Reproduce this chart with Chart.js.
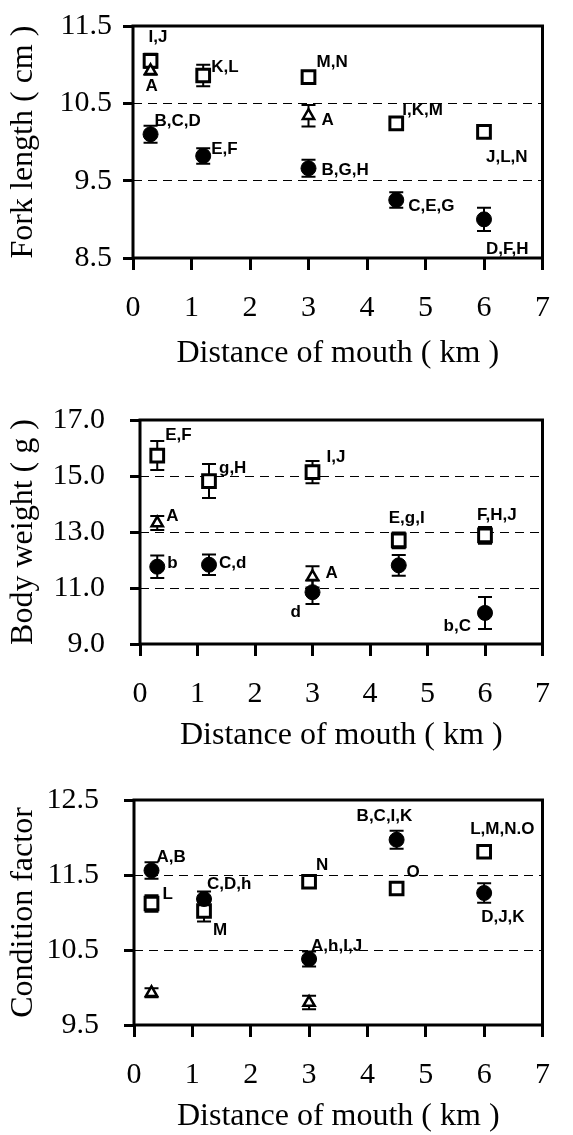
<!DOCTYPE html>
<html>
<head>
<meta charset="utf-8">
<script src="https://cdn.jsdelivr.net/npm/chart.js@4.4.1/dist/chart.umd.min.js"></script>
<style>
  body { margin: 0; background: #fff; width: 573px; height: 1135px; overflow: hidden; }
  canvas { position: absolute; left: 0; }
</style>
</head>
<body>
<canvas id="fork" width="573" height="380" style="top:0"></canvas>
<canvas id="weight" width="573" height="380" style="top:380px"></canvas>
<canvas id="cond" width="573" height="375" style="top:760px"></canvas>
<script>
// sampling sites (km from mouth)
const distance = [0.3, 1.2, 3, 4.5, 6];
const distanceTri = [0.3, 3];
const xTickValues = [0, 1, 2, 3, 4, 5, 6, 7];
const xTitle = 'Distance of mouth ( km )';

// Fork length ( cm )
const forkTicks = [8.5, 9.5, 10.5, 11.5];
const forkCircle = [10.10, 9.82, 9.66, 9.25, 9.00];
const forkCircleSE = [0.11, 0.10, 0.11, 0.10, 0.15];
const forkSquare = [11.05, 10.86, 10.84, 10.24, 10.13];
const forkSquareSE = [0.09, 0.14, 0.05, 0.04, 0.04];
const forkTriangle = [10.92, 10.34];
const forkTriangleSE = [0.05, 0.14];
const forkCircleLabels = ['B,C,D', 'E,F', 'B,G,H', 'C,E,G', 'D,F,H'];
const forkSquareLabels = ['I,J', 'K,L', 'M,N', 'I,K,M', 'J,L,N'];
const forkTriangleLabels = ['A', 'A'];

// Body weight ( g )
const weightTicks = [9, 11, 13, 15, 17];
const weightCircle = [11.76, 11.83, 10.85, 11.81, 10.11];
const weightCircleSE = [0.40, 0.37, 0.42, 0.37, 0.57];
const weightSquare = [15.73, 14.82, 15.14, 12.70, 12.88];
const weightSquareSE = [0.52, 0.61, 0.40, 0.28, 0.30];
const weightTriangle = [13.32, 11.40];
const weightTriangleSE = [0.25, 0.38];
const weightCircleLabels = ['b', 'C,d', 'd', '', 'b,C'];
const weightSquareLabels = ['E,F', 'g,H', 'I,J', 'E,g,I', 'F,H,J'];
const weightTriangleLabels = ['A', 'A'];

// Condition factor
const condTicks = [9.5, 10.5, 11.5, 12.5];
const condCircle = [11.56, 11.18, 10.38, 11.97, 11.26];
const condCircleSE = [0.11, 0.10, 0.10, 0.12, 0.13];
const condSquare = [11.12, 11.02, 11.41, 11.32, 11.81];
const condSquareSE = [0.11, 0.14, 0.07, 0.05, 0.05];
const condTriangle = [9.93, 9.80];
const condTriangleSE = [0.06, 0.09];
const condCircleLabels = ['A,B', 'C,D,h', 'A,h,I,J', 'B,C,I,K', 'D,J,K'];
const condSquareLabels = ['L', 'M', 'N', 'O', 'L,M,N.O'];
const condTriangleLabels = ['', ''];

// letter placement next to each marker: [dx, dy, align] in px
const forkCirclePos = [[4, -13, 'left'], [8, -7, 'left'], [13, 2, 'left'], [12, 6, 'left'], [2, 30, 'left']];
const forkSquarePos = [[-2, -23, 'left'], [8, -8, 'left'], [8, -15, 'left'], [6, -13, 'left'], [2, 25, 'left']];
const forkTrianglePos = [[-5, 15, 'left'], [13, 5, 'left']];
const weightCirclePos = [[10, -3, 'left'], [10, -1, 'left'], [-22, 20, 'left'], [0, 0, 'left'], [-14, 13, 'right']];
const weightSquarePos = [[8, -20, 'left'], [10, -13, 'left'], [14, -15, 'left'], [-10, -22, 'left'], [-8, -20, 'left']];
const weightTrianglePos = [[9, -7, 'left'], [13, -3, 'left']];
const condCirclePos = [[5, -13, 'left'], [3, -15, 'left'], [2, -13, 'left'], [-40, -23, 'left'], [-3, 24, 'left']];
const condSquarePos = [[11, -9, 'left'], [9, 19, 'left'], [7, -16, 'left'], [10, -16, 'left'], [-14, -22, 'left']];
const condTrianglePos = [[0, 0, 'left'], [0, 0, 'left']];

const serif = '"Liberation Serif", "Times New Roman", serif';
const tickFont = { family: serif, size: 30, lineHeight: 1 };
const titleFont = { family: serif, size: 32, lineHeight: 1 };
const letterFont = 'bold 17px "Liberation Sans", Arial, sans-serif';

// error bars + frame under the markers, letters on top
const panelPlugin = {
  id: 'panelPlugin',
  beforeDatasetsDraw(chart) {
    const { ctx, chartArea: a, scales: { y } } = chart;
    ctx.save();
    ctx.strokeStyle = '#000';
    ctx.lineWidth = 2;
    chart.data.datasets.forEach((ds, di) => {
      chart.getDatasetMeta(di).data.forEach((pt, j) => {
        const v = ds.data[j].y, e = ds.se[j];
        const top = y.getPixelForValue(v + e), bot = y.getPixelForValue(v - e);
        ctx.beginPath();
        ctx.moveTo(pt.x, top); ctx.lineTo(pt.x, bot);
        ctx.moveTo(pt.x - 7, top); ctx.lineTo(pt.x + 7, top);
        ctx.moveTo(pt.x - 7, bot); ctx.lineTo(pt.x + 7, bot);
        ctx.stroke();
      });
    });
    ctx.lineWidth = 3;
    ctx.strokeRect(a.left, a.top, a.width, a.height);
    ctx.restore();
  },
  afterDatasetsDraw(chart) {
    const ctx = chart.ctx;
    ctx.save();
    ctx.fillStyle = '#000';
    ctx.font = letterFont;
    ctx.textBaseline = 'middle';
    chart.data.datasets.forEach((ds, di) => {
      chart.getDatasetMeta(di).data.forEach((pt, j) => {
        const txt = ds.letters[j];
        if (!txt) return;
        const [dx, dy, align] = ds.letterPos[j];
        ctx.textAlign = align;
        ctx.fillText(txt, pt.x + dx, pt.y + dy);
      });
    });
    ctx.restore();
  }
};

function pts(xs, ys) {
  return xs.map((x, i) => ({ x, y: ys[i] }));
}

function makePanel(id, p) {
  const h = document.getElementById(id).height;
  const last = p.yTicks.length - 1;
  return new Chart(document.getElementById(id), {
    type: 'scatter',
    data: {
      datasets: [
        { data: pts(distance, p.circle), se: p.circleSE, letters: p.circleLabels, letterPos: p.circlePos,
          pointStyle: 'circle', pointRadius: 7.5, backgroundColor: '#000', borderColor: '#000', borderWidth: 1 },
        { data: pts(distanceTri, p.triangle), se: p.triangleSE, letters: p.triangleLabels, letterPos: p.trianglePos,
          pointStyle: 'triangle', pointRadius: 6.5, backgroundColor: '#fff', borderColor: '#000', borderWidth: 2.5 },
        { data: pts(distance, p.square), se: p.squareSE, letters: p.squareLabels, letterPos: p.squarePos,
          pointStyle: 'rect', pointRadius: 9, backgroundColor: '#fff', borderColor: '#000', borderWidth: 3 }
      ]
    },
    options: {
      responsive: false,
      animation: false,
      events: [],
      layout: { padding: { top: p.top, right: 573 - p.right, left: 0, bottom: 0 } },
      plugins: { legend: { display: false }, tooltip: { enabled: false } },
      scales: {
        x: {
          type: 'linear', min: 0, max: 7,
          afterBuildTicks: s => { s.ticks = xTickValues.map(v => ({ value: v })); },
          afterFit: s => { s.height = h - p.bottom; },
          grid: { drawOnChartArea: false, tickLength: 12, tickWidth: 3, tickColor: '#000' },
          border: { display: false },
          ticks: { color: '#000', padding: 23, font: tickFont, maxRotation: 0, autoSkip: false },
          title: { display: true, text: xTitle, color: '#000', font: titleFont, padding: { top: 0, bottom: p.titlePad } }
        },
        y: {
          type: 'linear', min: p.yTicks[0], max: p.yTicks[last],
          afterBuildTicks: s => { s.ticks = p.yTicks.map(v => ({ value: v })); },
          afterFit: s => { s.width = p.left; },
          grid: { color: '#000', lineWidth: 1, tickLength: 10, tickWidth: 3, tickColor: '#000', tickBorderDash: [] },
          border: { display: false, dash: [9, 6] },
          ticks: { color: '#000', padding: p.yPad, font: tickFont, callback: v => v.toFixed(1) },
          title: { display: true, text: p.yTitle, color: '#000', font: titleFont, padding: { top: 8, bottom: 0 } }
        }
      }
    },
    plugins: [panelPlugin]
  });
}

makePanel('fork', {
  yTitle: 'Fork length ( cm )', yTicks: forkTicks,
  circle: forkCircle, circleSE: forkCircleSE, circleLabels: forkCircleLabels, circlePos: forkCirclePos,
  square: forkSquare, squareSE: forkSquareSE, squareLabels: forkSquareLabels, squarePos: forkSquarePos,
  triangle: forkTriangle, triangleSE: forkTriangleSE, triangleLabels: forkTriangleLabels, trianglePos: forkTrianglePos,
  top: 20, bottom: 258, left: 133, right: 563, yPad: 11, titlePad: 10
});

makePanel('weight', {
  yTitle: 'Body weight ( g )', yTicks: weightTicks,
  circle: weightCircle, circleSE: weightCircleSE, circleLabels: weightCircleLabels, circlePos: weightCirclePos,
  square: weightSquare, squareSE: weightSquareSE, squareLabels: weightSquareLabels, squarePos: weightSquarePos,
  triangle: weightTriangle, triangleSE: weightTriangleSE, triangleLabels: weightTriangleLabels, trianglePos: weightTrianglePos,
  top: 23, bottom: 264, left: 140, right: 569, yPad: 25, titlePad: 8
});

makePanel('cond', {
  yTitle: 'Condition factor', yTicks: condTicks,
  circle: condCircle, circleSE: condCircleSE, circleLabels: condCircleLabels, circlePos: condCirclePos,
  square: condSquare, squareSE: condSquareSE, squareLabels: condSquareLabels, squarePos: condSquarePos,
  triangle: condTriangle, triangleSE: condTriangleSE, triangleLabels: condTriangleLabels, trianglePos: condTrianglePos,
  top: 23, bottom: 265, left: 134, right: 565, yPad: 25, titlePad: 2
});
</script>
</body>
</html>
